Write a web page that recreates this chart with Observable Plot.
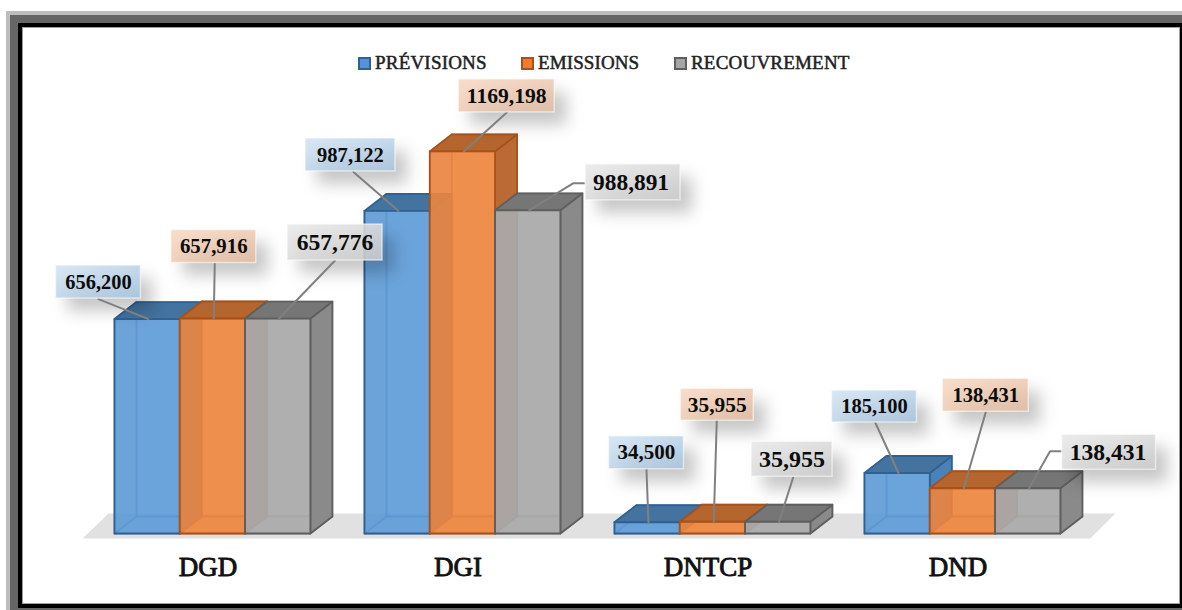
<!DOCTYPE html>
<html lang="fr">
<head>
<meta charset="utf-8">
<script src="https://cdn.jsdelivr.net/npm/d3@7"></script>
<script src="https://cdn.jsdelivr.net/npm/@observablehq/plot@0.6"></script>
<style>
html,body{margin:0;padding:0;background:#fff;overflow:hidden}
#page{position:relative;width:1182px;height:610px;overflow:hidden}
#frame{position:absolute;left:22px;top:27px;width:1158px;height:577px;box-sizing:border-box;background:#fff;border:1px solid #a0a0a0;
  box-shadow:0 0 0 4px #000,0 0 0 12px #666,0 0 0 16px #bdbdbd}
#chart{position:absolute;left:0;top:0}
#legend{position:absolute;left:358px;top:50px;height:26px;font:400 19px "Liberation Serif",serif;color:#222;-webkit-text-stroke:.5px #222}
#legend .item{position:absolute;top:0;white-space:nowrap;display:flex;align-items:center;height:26px}
#legend i{display:inline-block;width:9px;height:9px;border:2px solid;margin-right:4px}
</style>
</head>
<body>
<div id="page"><div id="frame"></div><div id="chart"></div><div id="legend"></div></div>
<script>
// ---- data ----
const categories = ["DGD", "DGI", "DNTCP", "DND"];
const seriesNames = ["PRÉVISIONS", "EMISSIONS", "RECOUVREMENT"];
const previsions = [656.2, 987.122, 34.5, 185.1];
const emissions = [657.916, 1169.198, 35.955, 138.431];
const recouvrement = [657.776, 988.891, 35.955, 138.431];
const valueLabels = [
  ["656,200", "657,916", "657,776"],
  ["987,122", "1169,198", "988,891"],
  ["34,500", "35,955", "35,955"],
  ["185,100", "138,431", "138,431"]
];

// ---- styling / layout ----
const seriesStyle = [
  {front:"rgba(98,158,218,.84)", back:"rgba(91,145,200,.6)", wall:"rgba(50,100,150,.45)", side:"#4a82b8", top:"#44739f", edge:"#2f6293", inner:"rgba(47,98,147,.5)", g:"b"},
  {front:"rgba(238,136,68,.86)", back:"rgba(232,130,62,.6)", wall:"rgba(170,85,30,.45)", side:"#b96a35", top:"#b5652e", edge:"#a6521a", inner:"rgba(166,82,26,.5)", g:"o"},
  {front:"rgba(172,172,172,.9)", back:"rgba(170,170,170,.6)", wall:"rgba(110,105,100,.4)", side:"#8a8a8a", top:"#767676", edge:"#5f5f5f", inner:"rgba(95,95,95,.4)", g:"g"}
];
const BAR_PX = 65.3, Y_PX = 0.3268, GROUP_STEP = 250 / BAR_PX;
const DEPTH_X = 22 / BAR_PX, DEPTH_Y = 17 / Y_PX;
const ux = p => p / BAR_PX, uy = p => p / Y_PX;

// label box centre offset from its bar's top, and box size (px)
const labelDx = [[-50,0,56],[-48,43,104],[-2,3.5,13],[-24,22,80]];
const labelDy = [[-37,-72,-76],[-56,-55.5,-28],[-69.5,-117,-62.5],[-66.5,-93,-36]];
const boxW = [[85,85,95],[90,96,95],[75,73,81],[85,86,94]];
const boxH = [[33,33,36],[33,33,36],[33,32,35],[32,33,35]];
const fontSize = [[20.4,20.8,23.6],[20.6,21.6,23.4],[21,21.4,24],[20.5,20.5,23.6]];
const textDx = [[0,0,0],[0,0,-2],[0,0,0],[0,0,-1]];
const leadDx = [[-50,1,56],[-45,43,56],[-2,3,14],[-23,22,33]];
const leadDy = [[-20,-55,-58],[-39,-39,-27],[-53,-101,-44],[-50,-76,-37]];
const elbowDx = [[null,null,null],[null,null,44],[null,null,null],[null,null,21]];

const columns = [previsions, emissions, recouvrement];

// ---- geometry built from the values ----
let faceId = 0;
const faces = [];
function poly(list, pts, fill, stroke) {
  const z = faceId++;
  [...pts, pts[0]].forEach(([x, y]) => list.push({x, y, z, fill, stroke}));
}
const bars = [];
categories.forEach((c, g) => {
  seriesNames.forEach((s, k) => {
    const v = columns[k][g], st = seriesStyle[k];
    const x1 = g * GROUP_STEP + k, x2 = x1 + 1;
    const dx = DEPTH_X, dy = DEPTH_Y;
    bars.push({g, k, x: x1 + 0.52, y: v});
    poly(faces, [[x1+dx,dy],[x2+dx,dy],[x2+dx,v+dy],[x1+dx,v+dy]], st.back, st.inner);
    poly(faces, [[x1,0],[x2,0],[x2+dx,dy],[x1+dx,dy]], st.back, st.inner);
    poly(faces, [[x1,0],[x1+dx,dy],[x1+dx,v+dy],[x1,v]], st.wall, st.inner);
    poly(faces, [[x2,0],[x2+dx,dy],[x2+dx,v+dy],[x2,v]], st.side, st.edge);
    poly(faces, [[x1,v],[x2,v],[x2+dx,v+dy],[x1+dx,v+dy]], st.top, st.edge);
    poly(faces, [[x1,0],[x2,0],[x2,v],[x1,v]], st.front, st.edge);
  });
});

const floor = [];
const lastEnd = (categories.length - 1) * GROUP_STEP + 3;
[[ux(-32), uy(-5)], [lastEnd + ux(30), uy(-5)], [lastEnd + ux(55), uy(20)], [ux(-6), uy(20)], [ux(-32), uy(-5)]]
  .forEach(([x, y]) => floor.push({x, y}));

const leaders = [], boxes = [];
bars.forEach(b => {
  const {g, k, x, y} = b;
  const pts = [[leadDx[g][k], leadDy[g][k]]];
  if (elbowDx[g][k] != null) pts.push([elbowDx[g][k], leadDy[g][k]]);
  pts.push([0, 0]);
  pts.forEach(([px, py]) => leaders.push({x: x + ux(px), y: y - uy(py), z: g * 3 + k}));
  const cx = x + ux(labelDx[g][k]), cy = y - uy(labelDy[g][k]);
  const w = ux(boxW[g][k] / 2), h = uy(boxH[g][k] / 2);
  boxes.push({g, k, cx, cy, w, h, label: valueLabels[g][k], size: fontSize[g][k], tx: cx + ux(textDx[g][k])});
});
const offX = ux(12), offY = uy(13);

const plot = Plot.plot({
  width: 1182, height: 610, margin: 0,
  style: {background: "none", fontFamily: '"Liberation Serif", serif'},
  x: {axis: null, type: "linear", domain: [-ux(114), ux(1182 - 114)], range: [0, 1182]},
  y: {axis: null, type: "linear", domain: [uy(-77), uy(533)], range: [610, 0]},
  marks: [
    Plot.line(floor, {x: "x", y: "y", fill: "#e1e1e1", stroke: "none"}),
    Plot.line(faces, {x: "x", y: "y", z: "z", fill: {value: "fill", scale: null}, stroke: {value: "stroke", scale: null}, strokeWidth: 1.8, strokeLinejoin: "round"}),
    Plot.text(categories, {
      x: (d, i) => i * GROUP_STEP + 1.5,
      y: () => 0, text: d => d, dy: 34, dx: -4.5,
      fontSize: 27, fill: "#111", stroke: "#111", strokeWidth: 0.9
    }),
    Plot.rect(boxes, {
      x1: d => d.cx - d.w + offX, x2: d => d.cx + d.w + offX,
      y1: d => d.cy - d.h - offY, y2: d => d.cy + d.h - offY,
      fill: "#000", fillOpacity: 0.22, imageFilter: "blur(8px)"
    }),
    Plot.line(leaders, {x: "x", y: "y", z: "z", stroke: "#808080", strokeWidth: 2}),
    Plot.rect(boxes, {
      x1: d => d.cx - d.w, x2: d => d.cx + d.w,
      y1: d => d.cy - d.h, y2: d => d.cy + d.h,
      fill: {value: d => `url(#lab-${seriesStyle[d.k].g})`, scale: null},
      fillOpacity: 0.88,
      stroke: "rgba(255,255,255,.55)", strokeWidth: 1.5
    }),
    Plot.text(boxes, {
      x: "tx", y: "cy", text: "label",
      fontSize: "size", fontWeight: "bold", fill: "#0c0c0c"
    })
  ]
});
plot.insertAdjacentHTML("afterbegin", `<defs>
<linearGradient id="lab-b" x1="0" y1="0" x2="1" y2="1"><stop offset="0" stop-color="#d4e4f3"/><stop offset="1" stop-color="#a9c5df"/></linearGradient>
<linearGradient id="lab-o" x1="0" y1="0" x2="1" y2="1"><stop offset="0" stop-color="#f8d9c5"/><stop offset="1" stop-color="#e3bda3"/></linearGradient>
<linearGradient id="lab-g" x1="0" y1="0" x2="1" y2="1"><stop offset="0" stop-color="#e9e9e9"/><stop offset="1" stop-color="#cdcdcd"/></linearGradient>
</defs>`);
document.getElementById("chart").appendChild(plot);

// ---- legend ----
const legendLeft = [0, 163, 316];
const legendFill = ["#5b8fd6", "#ed7d31", "#a5a5a5"];
const legendEdge = ["#2f6293", "#a6521a", "#5f5f5f"];
const legendSpacing = ["0.2px", "0.1px", "0.2px"];
const legend = document.getElementById("legend");
seriesNames.forEach((s, i) => {
  const el = document.createElement("span");
  el.className = "item";
  el.style.left = legendLeft[i] + "px";
  el.style.letterSpacing = legendSpacing[i];
  const sw = document.createElement("i");
  sw.style.background = legendFill[i];
  sw.style.borderColor = legendEdge[i];
  el.appendChild(sw);
  el.appendChild(document.createTextNode(s));
  legend.appendChild(el);
});
</script>
</body>
</html>
